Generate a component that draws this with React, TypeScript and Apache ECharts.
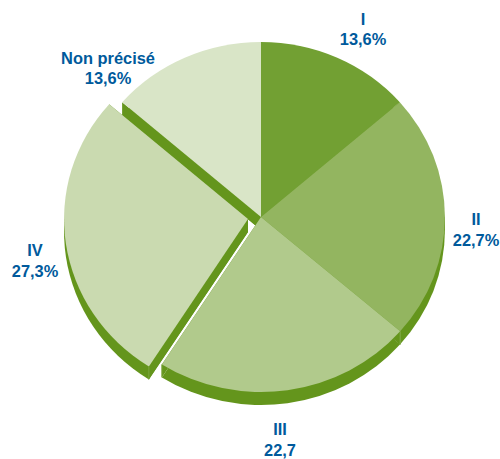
import React, { useEffect, useRef } from "react";
import * as echarts from "echarts";

const categories = ["I", "II", "III", "IV", "Non précisé"];
const values = [13.6, 22.7, 22.7, 27.3, 13.6];
const valueLabels = ["13,6%", "22,7%", "22,7", "27,3%", "13,6%"];
const colors = ["#72a033", "#93b560", "#b1ca8c", "#cadab0", "#d9e5c7"];
const explode = [false, false, false, true, false];
const wallColor = "#64951c";
const wallEdge = "#7ba53f";
const textColor = "#005a9c";

const CX = 261;
const CY = 217;
const RX = 184;
const RY = 175;
const DEPTH = 13;
const EXPLODE_X = -13;
const EXPLODE_Y = 2;
const labelAnchors = [
  [363, 29],
  [476, 229],
  [280, 439],
  [35, 260],
  [108, 68],
];
const labelLineHeights = [20, 21, 21, 21, 20];

const total = values.reduce((a, b) => a + b, 0);
function sliceAngles(i: number) {
  let before = 0;
  for (let k = 0; k < i; k++) before += values[k];
  const a0 = (before / total) * Math.PI * 2 - Math.PI / 2;
  const a1 = a0 + (values[i] / total) * Math.PI * 2;
  return [a0, a1];
}
function offset(i: number) {
  return explode[i] ? [CX + EXPLODE_X, CY + EXPLODE_Y] : [CX, CY];
}
function rim(cx: number, cy: number, a: number) {
  return [cx + RX * Math.cos(a), cy + RY * Math.sin(a)];
}
function sector(cx: number, cy: number, a0: number, a1: number, fill: string) {
  return {
    type: "sector",
    x: cx,
    y: cy,
    scaleX: RX / RY,
    shape: { cx: 0, cy: 0, r0: 0, r: RY, startAngle: a0, endAngle: a1, clockwise: true },
    style: { fill },
  };
}
function quad(cx: number, cy: number, a: number) {
  const p = rim(cx, cy, a);
  return {
    type: "polygon",
    shape: { points: [[cx, cy], p, [p[0], p[1] + DEPTH], [cx, cy + DEPTH]] },
    style: { fill: wallColor },
  };
}

function renderWall(params: any) {
  const i = params.dataIndex;
  const [a0, a1] = sliceAngles(i);
  const [cx, cy] = offset(i);
  const children: any[] = [sector(cx, cy + DEPTH, a0, a1, wallColor), quad(cx, cy, a0), quad(cx, cy, a1)];
  for (const t of [0, Math.PI, Math.PI * 2]) {
    if (t > a0 && t < a1) children.push(quad(cx, cy, t));
  }
  return { type: "group", children };
}

function renderTop(params: any) {
  const i = params.dataIndex;
  const [a0, a1] = sliceAngles(i);
  const [cx, cy] = offset(i);
  const children: any[] = [sector(cx, cy, a0, a1, colors[i])];
  const ends = [a0, a1].map((a) => rim(cx, cy, a));
  ends.forEach((p) => {
    if (p[1] > cy && p[1] < cy + RY && (explode[i] ? p[0] > cx - RX : true)) {
      children.push({
        type: "line",
        shape: { x1: p[0], y1: p[1], x2: p[0], y2: p[1] + DEPTH },
        style: { stroke: wallEdge, lineWidth: 1 },
      });
    }
  });
  const [lx, ly] = labelAnchors[i];
  children.push({
    type: "text",
    x: lx,
    y: ly,
    style: {
      text: categories[i] + "\n" + valueLabels[i],
      fill: textColor,
      font: "bold 16.4px 'Liberation Sans', Arial, sans-serif",
      lineHeight: labelLineHeights[i],
      align: "center",
      verticalAlign: "middle",
    },
  });
  return { type: "group", children };
}

export default function App() {
  const ref = useRef<HTMLDivElement>(null);
  useEffect(() => {
    const chart = echarts.init(ref.current!, null, { renderer: "svg" });
    const data = values.map((v) => [v]);
    chart.setOption({
      animation: false,
      backgroundColor: "#ffffff",
      series: [
        { type: "custom", coordinateSystem: "none", silent: true, z: 1, data, renderItem: renderWall },
        { type: "custom", coordinateSystem: "none", silent: true, z: 2, data, renderItem: renderTop },
      ],
    });
    return () => chart.dispose();
  }, []);
  return <div ref={ref} style={{ position: "absolute", left: 0, top: 0, width: 500, height: 459 }} />;
}
